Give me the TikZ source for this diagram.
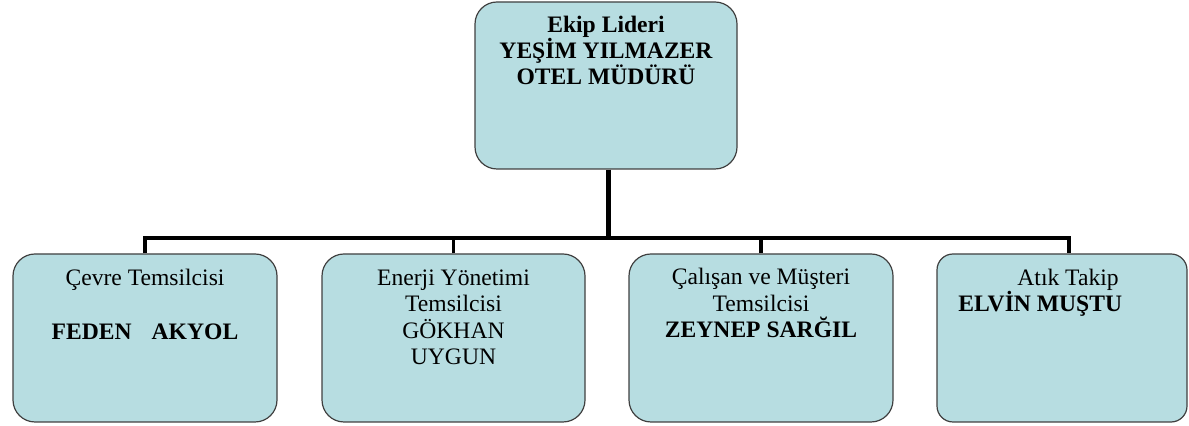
\documentclass[tikz,border=0pt]{standalone}
\usepackage{fontspec}
\setmainfont{Liberation Serif}
\usetikzlibrary{positioning}
\definecolor{kutuMavi}{RGB}{183,221,225}

\begin{document}
\begin{tikzpicture}[x=0.5pt,y=-0.5pt,
  kutu/.style={draw=black!75,fill=kutuMavi,line width=0.6pt,rounded corners=11pt,
    inner sep=0pt,minimum height=84pt,minimum width=#1},
  yazi/.style={inner sep=0pt,anchor=base,align=center,
    font=\fontsize{11.8}{13.3}\selectfont},
  hat/.style={line width=1.6pt}]
\useasboundingbox (0,0) rectangle (1189,426);
\node[kutu=131pt,minimum height=83.5pt] (lider) at (606,85.5) {};
\node[kutu=132pt] (cevre) at (145,338) {};
\node[kutu=131.5pt] (enerji) at (453.5,338) {};
\node[kutu=132pt] (calisan) at (761,338) {};
\node[kutu=125pt,rounded corners=8pt] (atik) at (1062,338) {};
\node[yazi,font=\fontsize{11.8}{13.1}\selectfont\bfseries] (liderYazi) at (606,85)
  {Ekip Lideri\\YEŞİM YILMAZER\\OTEL MÜDÜRÜ};
\node[yazi] (cevreYazi) at (145,340)
  {Çevre Temsilcisi\\[14pt]\textbf{FEDEN\hspace{10pt}AKYOL}};
\node[yazi] (enerjiYazi) at (453.5,365) {Enerji Yönetimi\\Temsilcisi\\GÖKHAN\\UYGUN};
\node[yazi] (calisanYazi) at (761,338)
  {Çalışan ve Müşteri\\Temsilcisi\\\textbf{ZEYNEP SARĞIL}};
\node[yazi,anchor=base west,align=left] (atikYazi) at (958,312)
  {\hspace*{29.5pt}Atık Takip\\\textbf{ELVİN MUŞTU}};
\coordinate (bus) at (606,238);
\coordinate (liderUc) at ([xshift=1pt]lider.south);
\coordinate (atikUc) at ([xshift=3.5pt]atik.north);
\draw[line width=2.5pt] (liderUc) -- (liderUc |- bus);
\draw[hat,line width=2pt] (cevre.north) |- (atikUc |- bus) -- (atikUc);
\foreach \k in {enerji,calisan}
  \draw[hat] (\k.north) -- (\k.north |- bus);
\end{tikzpicture}
\end{document}
